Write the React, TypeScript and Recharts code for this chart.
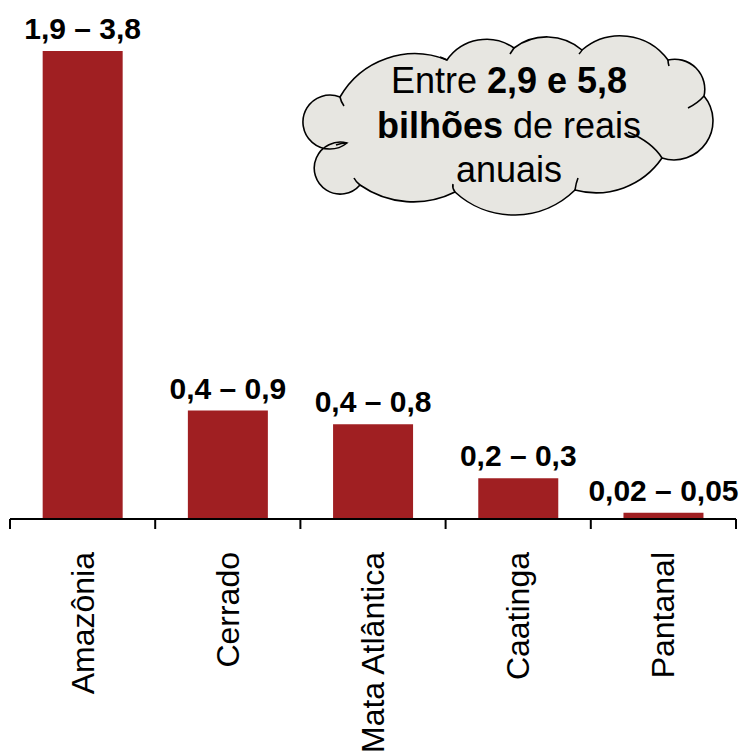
import { Bar, BarChart, LabelList, XAxis, YAxis } from "recharts";

const categories = ["Amazônia", "Cerrado", "Mata Atlântica", "Caatinga", "Pantanal"];
// bar heights follow the upper bound of each range
const upperValues = [3.8, 0.88, 0.77, 0.33, 0.05];
const rangeLabels = ["1,9 – 3,8", "0,4 – 0,9", "0,4 – 0,8", "0,2 – 0,3", "0,02 – 0,05"];

const data = categories.map((name, i) => ({ name, value: upperValues[i], label: rangeLabels[i] }));

const FONT = '"Liberation Sans", Arial, sans-serif';
const BAR_COLOR = "#a01f22";
const TICK_SIZE = 10;
const TICK_MARGIN = 23;

// tick marks sit on the category boundaries, labels run upward under each bar
function CategoryTick({ x, y, payload, index, width, visibleTicksCount }: any) {
  const band = width / visibleTicksCount;
  const axisY = y - TICK_SIZE - TICK_MARGIN;
  const left = x - band / 2;
  return (
    <g>
      <line x1={left} x2={left} y1={axisY} y2={axisY + TICK_SIZE} stroke="#000" strokeWidth={2} />
      {index === visibleTicksCount - 1 && <line x1={left + band} x2={left + band} y1={axisY} y2={axisY + TICK_SIZE} stroke="#000" strokeWidth={2} />}
      <text x={x} y={y} dy={11} transform={`rotate(-90, ${x}, ${y})`} textAnchor="end" fontSize={32} fontFamily={FONT} fill="#000">
        {payload.value}
      </text>
    </g>
  );
}

// cloud outline: notch points and the radius / large-arc flag of the puff that follows
const cloudArcs: Array<[number, number, number, number]> = [
  [340, 97, 86, 0],
  [447, 60, 48, 0],
  [514, 48, 54, 0],
  [582, 50, 59, 0],
  [668, 60, 30, 0],
  [704, 96, 39, 0],
  [662, 158, 80, 0],
  [575, 190, 87, 0],
  [455, 192, 93, 0],
  [360, 185, 26, 1],
  [347, 143, 27, 1],
];

function cloudPath() {
  let d = `M ${cloudArcs[0][0]} ${cloudArcs[0][1]}`;
  cloudArcs.forEach((_, i) => {
    const next = cloudArcs[(i + 1) % cloudArcs.length];
    const [, , r, large] = cloudArcs[i];
    d += ` A ${r} ${r} 0 ${large} 1 ${next[0]} ${next[1]}`;
  });
  return d + " Z";
}

const innerStrokes = [
  "M 628 132 Q 652 142 662 158",
  "M 688 108 Q 698 103 704 96",
  "M 575 190 Q 576 183 578 178",
  "M 455 192 Q 452 188 453 184",
  "M 360 185 Q 356 182 354 178",
  "M 347 143 Q 341 143 336 145",
  "M 340 97 Q 341 102 344 106",
  "M 447 60 Q 443 58 440 57",
  "M 514 48 Q 512 51 510 54",
  "M 582 50 Q 581 52 579 54",
  "M 668 60 Q 668 63 669 66",
];

function Cloud() {
  return (
    <svg width={743} height={755} style={{ position: "absolute", left: 0, top: 0, pointerEvents: "none" }}>
      <path d={cloudPath()} fill="#e7e6e1" stroke="#000" strokeWidth={1.6} />
      {innerStrokes.map((d) => (
        <path key={d} d={d} fill="none" stroke="#000" strokeWidth={1.6} />
      ))}
      <text x={509} y={93} textAnchor="middle" fontSize={36} fontFamily={FONT} fill="#000">
        Entre <tspan fontWeight="bold">2,9 e 5,8</tspan>
      </text>
      <text x={509} y={138} textAnchor="middle" fontSize={36} fontFamily={FONT} fill="#000">
        <tspan fontWeight="bold">bilhões</tspan> de reais
      </text>
      <text x={509} y={182} textAnchor="middle" fontSize={36} fontFamily={FONT} fill="#000">
        anuais
      </text>
    </svg>
  );
}

export default function App() {
  return (
    <div style={{ position: "absolute", left: 0, top: 0, width: 743, height: 755, background: "#fff", fontFamily: FONT }}>
      <BarChart width={743} height={755} data={data} margin={{ top: 51, right: 7, left: 10, bottom: 0 }} barCategoryGap="22.5%">
        <YAxis hide domain={[0, 3.8]} />
        <XAxis
          dataKey="name"
          height={236}
          axisLine={{ stroke: "#000", strokeWidth: 2 }}
          tickLine={false}
          tickSize={TICK_SIZE}
          tickMargin={TICK_MARGIN}
          interval={0}
          tick={<CategoryTick />}
        />
        <Bar dataKey="value" fill={BAR_COLOR} isAnimationActive={false}>
          <LabelList dataKey="label" position="top" offset={12} fontSize={30} fontWeight="bold" fontFamily={FONT} fill="#000" />
        </Bar>
      </BarChart>
      <Cloud />
    </div>
  );
}
